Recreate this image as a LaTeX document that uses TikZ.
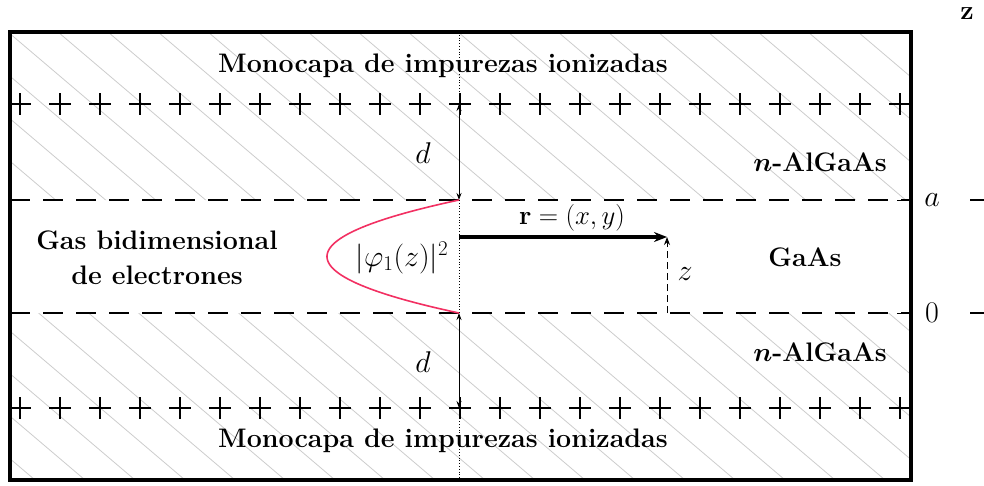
\RequirePackage{fix-cm}
\documentclass[tikz,border=0pt]{standalone}
\usepackage{amsmath,bm}
\usetikzlibrary{arrows.meta}
\definecolor{curvered}{RGB}{242,48,98}
\tikzset{
  txt/.style={font=\fontsize{26.8}{33}\selectfont, inner sep=0pt},
  bigtxt/.style={font=\fontsize{30}{36}\selectfont, inner sep=0pt},
  frame/.style={line width=3.8pt},
  layer/.style={line width=1.8pt, dash pattern=on 20pt off 13pt},
  plusmark/.style={line width=1.4pt},
  hatch/.style={gray!40, line width=0.8pt},
  darrow/.style={line width=0.9pt, {Stealth[length=7pt,width=5pt]}-{Stealth[length=7pt,width=5pt]}},
  rarrow/.style={line width=3.2pt, -{Stealth[length=13pt,width=10pt]}},
  zarrow/.style={line width=1pt, dash pattern=on 7pt off 4pt, -{Stealth[length=8pt,width=6pt]}},
  tick/.style={line width=1pt},
  axisdash/.style={line width=2.4pt},
}
\begin{document}
\begin{tikzpicture}[x=1pt,y=-1pt]
\useasboundingbox (0,0) rectangle (984,485);
% hatching
\begin{scope}
  \clip (10,32) rectangle (912,200) (10,313) rectangle (912,480);
  \foreach \k in {-12,...,19} {
    \draw[hatch] ({8+50*\k},32) -- ++(540,459);
  }
\end{scope}
% named coordinates
\coordinate (topplus) at (459,104);
\coordinate (atop) at (459,200);
\coordinate (azero) at (459,313);
\coordinate (botplus) at (459,408);
\coordinate (rstart) at (459,237);
\coordinate (rend) at (667,237);
\coordinate (zbase) at (667,313);
% dotted axis
\draw[dotted, line width=0.8pt] (459,32) -- (459,480);
% dashed interfaces
\draw[layer] (10,200) -- (912,200);
\draw[layer] (10,313) -- (912,313);
% plus rows
\foreach \i in {0,...,22} {
  \draw[plusmark] ({20+40*\i-11},104) -- ++(22,0) ({20+40*\i},93) -- ++(0,22);
  \draw[plusmark] ({20+40*\i-11},408) -- ++(22,0) ({20+40*\i},397) -- ++(0,22);
}
% frame
\draw[frame] (10,32) rectangle (911,480);
% arrows
\draw[darrow] (topplus) -- (atop);
\draw[darrow] (azero) -- (botplus);
\draw[rarrow] (rstart) -- (rend);
\draw[zarrow] (zbase) -- (rend);
% wavefunction
\draw[curvered, line width=1.6pt] plot[domain=200:313, samples=80, smooth] ({327+132*((\x-256.5)/56.5)^2}, \x);
% right ticks
\draw[tick] (897,200) -- (912,200);
\draw[tick] (897,313) -- (912,313);
\draw[axisdash] (970,200) -- (984,200);
\draw[axisdash] (970,313) -- (984,313);
% labels
\node[txt] (zaxis) at (967,14) {\textbf{z}};
\node[txt] (mono1) at (443,66) {\textbf{Monocapa de impurezas ionizadas}};
\node[txt] (mono2) at (443,441) {\textbf{Monocapa de impurezas ionizadas}};
\node[txt] (alg1) at (820,162) {\textbf{\boldmath$n$-AlGaAs}};
\node[txt] (alg2) at (820,352) {\textbf{\boldmath$n$-AlGaAs}};
\node[txt] (gaas) at (805,257) {\textbf{GaAs}};
\node[txt, align=center] (gas) at (157,258) {\textbf{Gas bidimensional}\\[2pt]\textbf{de electrones}};
\node[bigtxt] (d1) at (423,153) {$d$};
\node[bigtxt] (d2) at (423,362) {$d$};
\node[bigtxt] (phi) at (402,258) {$|\varphi_1(z)|^2$};
\node[txt] (rlab) at (572,218) {$\mathbf{r}=(x,y)$};
\node[bigtxt] (zlab) at (685,274) {$z$};
\node[bigtxt] (alab) at (932,200) {$a$};
\node[bigtxt] (olab) at (932,313) {$0$};
\end{tikzpicture}
\end{document}
